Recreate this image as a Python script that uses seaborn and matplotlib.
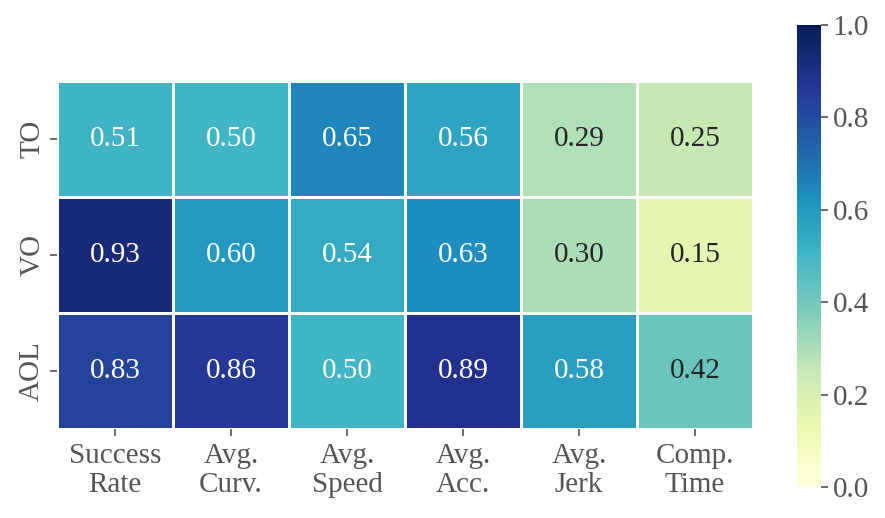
import matplotlib
matplotlib.use("Agg")
import matplotlib.pyplot as plt
import seaborn as sns
import numpy as np
import pandas as pd

rows = ["TO", "VO", "AOL"]
cols = ["Success\nRate", "Avg.\nCurv.", "Avg.\nSpeed", "Avg.\nAcc.", "Avg.\nJerk", "Comp.\nTime"]
to_vals = [0.51, 0.50, 0.65, 0.56, 0.29, 0.25]
vo_vals = [0.93, 0.60, 0.54, 0.63, 0.30, 0.15]
aol_vals = [0.83, 0.86, 0.50, 0.89, 0.58, 0.42]

df = pd.DataFrame([to_vals, vo_vals, aol_vals], index=rows, columns=cols)

plt.rcParams['font.family'] = ['Liberation Serif', 'DejaVu Serif']
grey = "#555555"
fig = plt.figure(figsize=(8.85, 5.18), dpi=100)
ax = fig.add_axes([56/885, (518-429)/518, 698/885, 348/518])
cax = fig.add_axes([797/885, (518-487)/518, 24/885, 462/518])
sns.heatmap(df, ax=ax, cbar_ax=cax, cmap="YlGnBu", vmin=0, vmax=1, annot=True, fmt=".2f",
            square=True, linewidths=2, linecolor="white",
            annot_kws={"fontsize": 21})
ax.tick_params(axis='both', labelsize=21, length=5, color=grey, labelcolor=grey, width=1.2)
ax.tick_params(axis='x', pad=5)
ax.set_yticklabels(rows, rotation=90, va='center')
ax.set_xticklabels(cols, rotation=0, linespacing=1.15)
cax.tick_params(labelsize=21, length=5, color=grey, labelcolor=grey, width=1.2)
cax.set_yticks([0, 0.2, 0.4, 0.6, 0.8, 1.0])
cax.set_yticklabels(["0.0", "0.2", "0.4", "0.6", "0.8", "1.0"])
fig.savefig("out.png", dpi=100)
